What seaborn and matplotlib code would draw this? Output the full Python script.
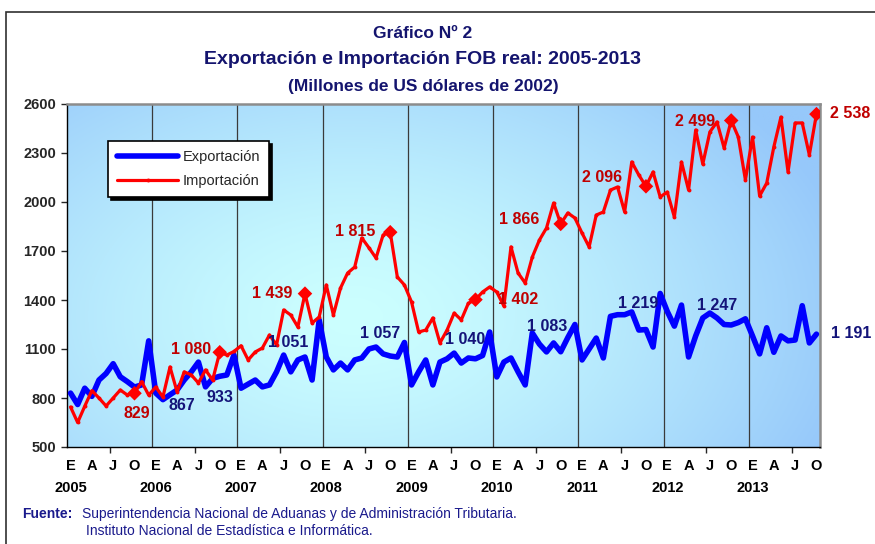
import numpy as np
import pandas as pd
import matplotlib
matplotlib.use("Agg")
import matplotlib.pyplot as plt
import seaborn as sns
from matplotlib.patches import Rectangle
from matplotlib.lines import Line2D

# ---------------- data (Jan 2005 .. Oct 2013, monthly) ----------------
years = ["2005", "2006", "2007", "2008", "2009", "2010", "2011", "2012", "2013"]
month_letters = ["E", "A", "J", "O"]

exportacion = [
    # 2005
    830, 760, 860, 810, 910, 950, 1010, 930, 900, 867, 880, 1150,
    # 2006
    830, 790, 820, 849, 910, 960, 1020, 868, 920, 933, 941, 1063,
    # 2007
    860, 885, 910, 868, 880, 960, 1063, 960, 1033, 1051, 910, 1278,
    # 2008
    1051, 972, 1014, 972, 1033, 1045, 1100, 1112, 1070, 1057, 1051, 1140,
    # 2009
    880, 960, 1033, 880, 1020, 1040, 1075, 1014, 1045, 1040, 1060, 1204,
    # 2010
    929, 1020, 1045, 960, 880, 1198, 1130, 1082, 1137, 1083, 1170, 1250,
    # 2011
    1033, 1100, 1167, 1045, 1300, 1310, 1310, 1327, 1216, 1219, 1112, 1440,
    # 2012
    1330, 1240, 1369, 1051, 1180, 1290, 1320, 1290, 1250, 1247, 1262, 1285,
    # 2013
    1180, 1070, 1230, 1080, 1180, 1150, 1155, 1365, 1137, 1191,
]

importacion = [
    # 2005
    745, 650, 750, 845, 800, 751, 800, 849, 818, 829, 900, 818,
    # 2006
    867, 806, 990, 837, 960, 941, 892, 972, 910, 1080, 1063, 1085,
    # 2007
    1120, 1033, 1082, 1106, 1186, 1125, 1339, 1308, 1235, 1439, 1259, 1296,
    # 2008
    1492, 1308, 1473, 1565, 1602, 1780, 1720, 1657, 1798, 1815, 1541, 1492,
    # 2009
    1388, 1204, 1216, 1290, 1137, 1216, 1320, 1278, 1380, 1402, 1449, 1480,
    # 2010
    1449, 1363, 1725, 1565, 1504, 1663, 1767, 1841, 1994, 1866, 1933, 1902,
    # 2011
    1810, 1725, 1920, 1939, 2073, 2092, 1939, 2245, 2165, 2096, 2184, 2031,
    # 2012
    2061, 1908, 2245, 2073, 2441, 2233, 2429, 2490, 2331, 2499, 2398, 2135,
    # 2013
    2398, 2037, 2116, 2337, 2520, 2184, 2484, 2484, 2288, 2538,
]

# labelled October values
oct_imp_labels = ["829", "1 080", "1 439", "1 815", "1 402", "1 866", "2 096", "2 499", "2 538"]
oct_exp_labels = ["867", "933", "1 051", "1 057", "1 040", "1 083", "1 219", "1 247", "1 191"]

yticks = [500, 800, 1100, 1400, 1700, 2000, 2300, 2600]

# ---------------- frame ----------------
n = len(exportacion)
df = pd.DataFrame({"t": np.arange(n), "exp": exportacion, "imp": importacion})
oct_idx = [9 + 12 * k for k in range(len(years))]
df_oct = df.iloc[oct_idx]

W, H = 875, 544
fig = plt.figure(figsize=(W / 100, H / 100), dpi=100)
sns.set_style("white")
plt.rcParams["font.family"] = ["Liberation Sans", "DejaVu Sans"]
NARROW = ["Liberation Sans Narrow", "Liberation Sans", "DejaVu Sans"]

ax = fig.add_axes([67 / W, 1 - 447 / H, (820 - 67) / W, (447 - 104) / H])

# gradient background
gx, gy = np.meshgrid(np.linspace(0, 1, 300), np.linspace(0, 1, 200))
t = np.sqrt(((gx - 0.38) / 0.68) ** 2 + ((gy - 0.38) / 0.95) ** 2)
t = np.clip(t, 0, 1) ** 1.4
c0 = np.array([0xCC, 0xFF, 0xFF]) / 255
c1 = np.array([0x96, 0xC8, 0xFA]) / 255
img = c0[None, None, :] * (1 - t[..., None]) + c1[None, None, :] * t[..., None]
ax.imshow(img, extent=[0, 1, 0, 1], transform=ax.transAxes, origin="lower",
          aspect="auto", zorder=0)

# year separators
for k in range(1, len(years)):
    ax.axvline(-0.5 + 12 * k, color="#3a3a3a", lw=0.9, zorder=1)

# lines
sns.lineplot(data=df, x="t", y="exp", ax=ax, color="#0000FF", lw=4.0,
             zorder=3, legend=False)
sns.lineplot(data=df, x="t", y="imp", ax=ax, color="#FF0000", lw=2.3,
             marker="o", markersize=2.8, markeredgewidth=0, zorder=4, legend=False)
sns.scatterplot(data=df_oct, x="t", y="imp", ax=ax, color="#FF0000", marker="D",
                s=55, edgecolor="none", zorder=5, legend=False)

ax.set_xlim(-0.5, 105.5)
ax.set_ylim(500, 2600)
ax.set_xlabel("")
ax.set_ylabel("")

# axes styling
for side in ["top", "right"]:
    ax.spines[side].set_visible(True)
    ax.spines[side].set_color("#8c8c8c")
    ax.spines[side].set_linewidth(1.8)
for side in ["left", "bottom"]:
    ax.spines[side].set_color("black")
    ax.spines[side].set_linewidth(1.0)

ax.set_yticks(yticks)
ax.set_yticklabels([str(v) for v in yticks], fontsize=10.5, fontweight="bold")
ax.tick_params(axis="y", direction="out", length=4, width=1, pad=4, left=True)
ax.set_xticks([5.5 + 12 * k for k in range(len(years))])
ax.set_xticklabels([])
ax.tick_params(axis="x", direction="out", length=4, width=1, bottom=True)
ax.grid(False)

# month letters and years
for yi, yr in enumerate(years):
    for mi, ml in enumerate(month_letters):
        idx = 12 * yi + 3 * mi
        if idx >= n:
            continue
        ax.text(idx, -0.055, ml, transform=ax.get_xaxis_transform(), ha="center",
                va="center", fontsize=10.5, fontweight="bold", color="black")
    ax.text(12 * yi, -0.12, yr, transform=ax.get_xaxis_transform(), ha="center",
            va="center", fontsize=10.5, fontweight="bold", color="black")

# data labels (pixel positions from reference converted to data coords)
def px_to_data(px, py):
    xd = -0.5 + (px - 67) / (820 - 67) * 106
    yd = 2600 - (py - 104) / (447 - 104) * 2100
    return xd, yd

red_txt = "#C00000"
blue_txt = "#14147A"
imp_pos = [(137, 413), (191, 350), (272, 294), (355, 232), (518, 300), (519, 220),
           (602, 178), (695, 122), (850, 114)]
exp_pos = [(182, 406), (220, 398), (288, 343), (380, 333), (465, 340), (547, 327),
           (638, 303), (717, 306), (851, 334)]
for lab, (px, py) in zip(oct_imp_labels, imp_pos):
    xd, yd = px_to_data(px, py)
    ax.text(xd, yd, lab, ha="center", va="center", fontsize=11.5, fontweight="bold",
            color=red_txt, zorder=6, clip_on=False)
for lab, (px, py) in zip(oct_exp_labels, exp_pos):
    xd, yd = px_to_data(px, py)
    ax.text(xd, yd, lab, ha="center", va="center", fontsize=11.5, fontweight="bold",
            color=blue_txt, zorder=6, clip_on=False)

# legend
handles = [Line2D([], [], color="#0000FF", lw=4.0),
           Line2D([], [], color="#FF0000", lw=2.3, marker="o", markersize=2.8,
                  markeredgewidth=0)]
leg = ax.legend(handles, ["Exportación", "Importación"], loc="upper left",
                bbox_to_anchor=(101 / W, 1 - 134 / H), bbox_transform=fig.transFigure,
                frameon=True, fancybox=False, shadow={"color": "black", "alpha": 1.0},
                edgecolor="black", framealpha=1.0, handlelength=4.2,
                handletextpad=0.3, borderpad=0.6, labelspacing=0.7,
                prop={"family": NARROW, "size": 10.5})
leg.get_frame().set_linewidth(1.2)
leg.set_zorder(10)

# titles
tcol = "#14146E"
fig.text(423 / W, 1 - 33 / H, "Gráfico Nº 2", ha="center", va="center",
         fontsize=12.5, fontweight="bold", color=tcol, family=NARROW)
fig.text(423 / W, 1 - 60 / H, "Exportación e Importación FOB real: 2005-2013",
         ha="center", va="center", fontsize=14, fontweight="bold", color=tcol,
         family=NARROW)
fig.text(423 / W, 1 - 86 / H, "(Millones de US dólares de 2002)", ha="center",
         va="center", fontsize=12.5, fontweight="bold", color=tcol, family=NARROW)

# source
scol = "#1A1A8C"
fig.text(22 / W, 1 - 514 / H, "Fuente:", ha="left", va="center", fontsize=10,
         fontweight="bold", color=scol, family=NARROW)
fig.text(82 / W, 1 - 514 / H,
         "Superintendencia Nacional de Aduanas y de Administración Tributaria.",
         ha="left", va="center", fontsize=10, color=scol, family=NARROW)
fig.text(86 / W, 1 - 531 / H,
         "Instituto Nacional de Estadística e Informática.",
         ha="left", va="center", fontsize=10, color=scol, family=NARROW)

# outer frame
fig.patches.append(Rectangle((6 / W, -0.05), 1.0, (H - 12) / H + 0.05,
                             transform=fig.transFigure, fill=False,
                             edgecolor="#303030", lw=1.2))

fig.savefig("out.png", dpi=100)
